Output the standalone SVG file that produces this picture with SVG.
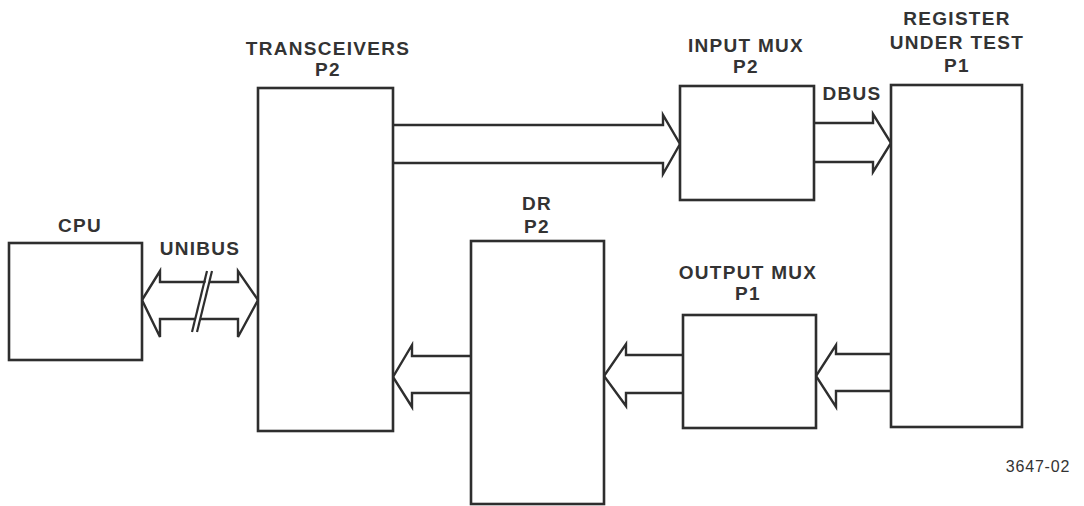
<svg xmlns="http://www.w3.org/2000/svg" width="1084" height="506" viewBox="0 0 1084 506">
<style>
.box{fill:#fff;stroke:#2e2e2e;stroke-width:2.6}
.bus{fill:#fff;stroke:#2e2e2e;stroke-width:2.4;stroke-linejoin:miter}
.t{font-family:"Liberation Sans",Arial,sans-serif;font-weight:bold;font-size:19px;letter-spacing:1.3px;fill:#333;text-anchor:middle}
.s{font-family:"Liberation Sans",Arial,sans-serif;font-size:16px;letter-spacing:0.8px;fill:#333;text-anchor:middle}
</style>
<rect width="1084" height="506" fill="#fff"/>
<g id="connectors">
<path class="bus" d="M393,125 L663,125 L663,115 L680,144 L663,174 L663,163 L393,163"/>
<path class="bus" d="M814,123 L873,123 L873,114 L891,143 L873,172 L873,162 L814,162"/>
<path class="bus" d="M891,354 L836,354 L836,345 L816,376 L836,407 L836,391 L891,391"/>
<path class="bus" d="M683,355 L626,355 L626,344 L604,376 L626,406 L626,393 L683,393"/>
<path class="bus" d="M471,356 L412,356 L412,345 L393,377 L412,407 L412,393 L471,393"/>
<path class="bus" d="M142,300 L160,271 L160,282 L238,282 L238,271 L258,300 L238,337 L238,319 L160,319 L160,337 Z"/>
<polygon points="193,330 208,273 212,273 197,330" fill="#fff" stroke="none"/>
<line x1="192" y1="332" x2="207" y2="271" stroke="#2e2e2e" stroke-width="2.2"/>
<line x1="197" y1="332" x2="212" y2="271" stroke="#2e2e2e" stroke-width="2.2"/>
<text class="t" x="200" y="255">UNIBUS</text>
<text class="t" x="852" y="100">DBUS</text>
</g>
<g id="cpu">
<rect class="box" x="9" y="243" width="133" height="117"/>
<text class="t" x="80" y="232">CPU</text>
</g>
<g id="transceivers">
<rect class="box" x="258" y="88" width="135" height="343"/>
<text class="t" x="328" y="55">TRANSCEIVERS</text>
<text class="t" x="328" y="76">P2</text>
</g>
<g id="input-mux">
<rect class="box" x="680" y="86" width="134" height="114"/>
<text class="t" x="746" y="52">INPUT MUX</text>
<text class="t" x="746" y="73">P2</text>
</g>
<g id="register">
<rect class="box" x="891" y="85" width="131" height="342"/>
<text class="t" x="957" y="25">REGISTER</text>
<text class="t" x="957" y="49">UNDER TEST</text>
<text class="t" x="957" y="72">P1</text>
</g>
<g id="dr">
<rect class="box" x="471" y="241" width="133" height="263"/>
<text class="t" x="537" y="210">DR</text>
<text class="t" x="537" y="233">P2</text>
</g>
<g id="output-mux">
<rect class="box" x="683" y="315" width="133" height="113"/>
<text class="t" x="748" y="279">OUTPUT MUX</text>
<text class="t" x="748" y="300">P1</text>
</g>
<text class="s" x="1038" y="472">3647-02</text>
</svg>
